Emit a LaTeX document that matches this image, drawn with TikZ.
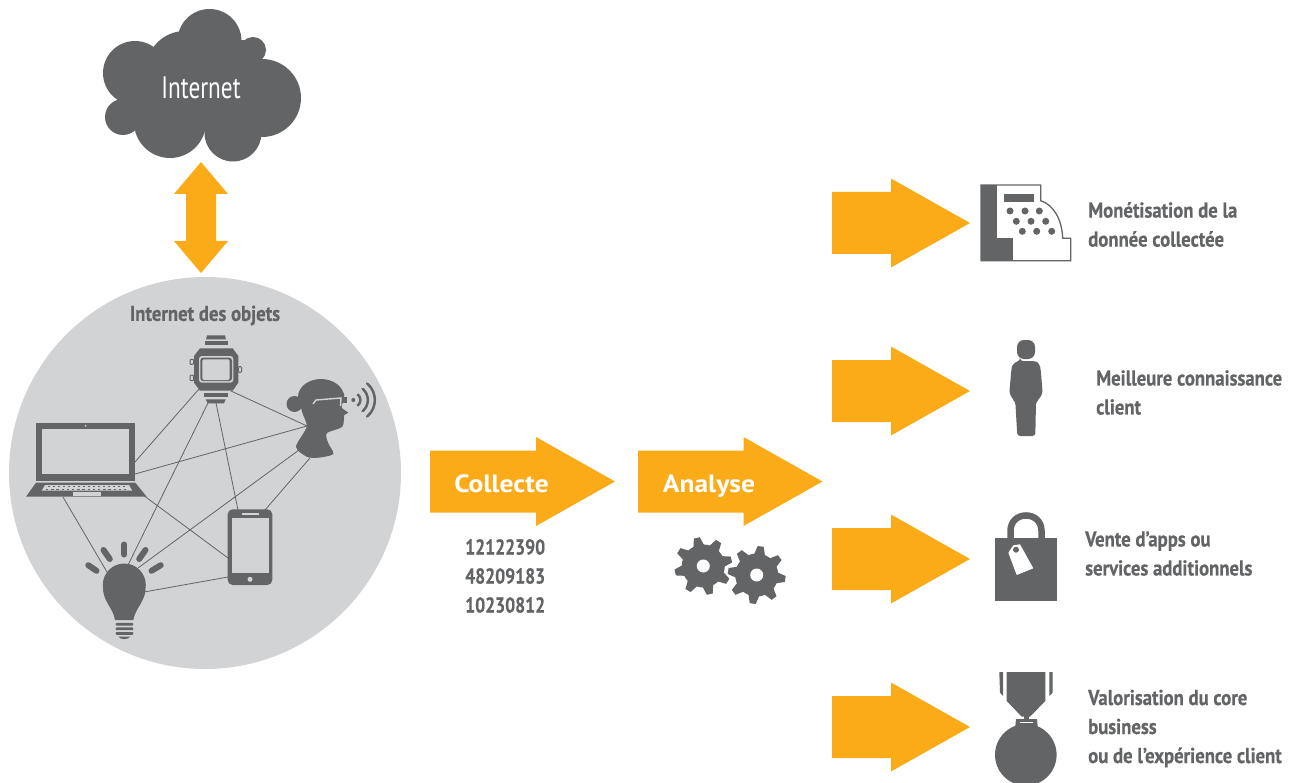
\documentclass[tikz,border=0pt]{standalone}
\usepackage{fontspec}
\setmainfont{PT Sans}
\newfontfamily\narrowfont{PT Sans}[FakeStretch=0.87,BoldFeatures={FakeBold=0.4}]
\newfontfamily\digitfont{PT Sans}[FakeStretch=0.82,BoldFeatures={FakeBold=0.4}]
\newfontfamily\thinfont{PT Sans}[FakeStretch=0.75]
\newfontfamily\widefont{PT Sans}[FakeStretch=1.1]
\definecolor{darkgrey}{HTML}{636466}
\definecolor{lightgrey}{HTML}{D1D3D4}
\definecolor{arroworange}{HTML}{FBAB18}
\tikzset{
    link/.style={draw=darkgrey, line width=0.8pt},
    lbl/.style={anchor=west, align=left, inner sep=0pt, text=darkgrey, font=\narrowfont\bfseries\fontsize{21.5}{29}\selectfont},
    numlbl/.style={lbl, font=\digitfont\bfseries\fontsize{21.5}{29}\selectfont},
    arrowlbl/.style={inner sep=0pt, text=white, text height=18pt, text depth=6pt, font=\widefont\bfseries\fontsize{25}{28}\selectfont},
    ray/.style={draw=darkgrey, line width=6pt, line cap=round},
}
% block arrow: left end, start of the head, middle height
\newcommand{\orangearrow}[3]{
    \fill[arroworange] (#1,#3-31) -- (#2,#3-31) -- (#2,#3-44.5) -- (#2+79,#3) -- (#2,#3+44.5) -- (#2,#3+31) -- (#1,#3+31) -- cycle;
}
% gear: center, rotation
\newcommand{\gearwheel}[3]{
    \fill[darkgrey] (#1,#2) circle (21.5pt);
    \foreach \a in {0,45,...,315} {
        \fill[darkgrey, shift={(#1,#2)}] (#3+\a-15:21) -- (#3+\a-6:29) -- (#3+\a+6:29) -- (#3+\a+15:21) -- cycle;
    }
    \fill[white] (#1,#2) circle (6.5pt);
}
\begin{document}
\begin{tikzpicture}[x=1pt,y=-1pt]
    \clip (0,0) rectangle (1289,783);
    \fill[white] (0,0) rectangle (1289,783);

    % cloud
    \fill[darkgrey] (209.5,41) circle (32pt);
    \fill[darkgrey] (253,50) circle (13pt);
    \fill[darkgrey] (262,98) circle (39pt);
    \fill[darkgrey] (135,73) circle (32pt);
    \fill[darkgrey] (185,70) circle (39pt);
    \fill[darkgrey] (123,117) circle (18pt);
    \fill[darkgrey] (170,122) circle (36pt);
    \fill[darkgrey] (233,133) circle (28.5pt);
    \fill[darkgrey] (135,60) rectangle (265,130);
    \fill[darkgrey] (220,40) rectangle (255,65);
    \node[inner sep=0pt, text=white, font=\thinfont\fontsize{31}{34}\selectfont] (internet) at (201,88) {Internet};

    % double arrow
    \fill[arroworange] (201,162) -- (228,194) -- (216,194) -- (216,241) -- (228,241) -- (201,273) -- (174,241) -- (186,241) -- (186,194) -- (174,194) -- cycle;

    % big circle
    \fill[lightgrey] (205,473) circle (196pt);
    \node[lbl, anchor=center] (objets) at (205,315.5) {Internet des objets};

    % links
    \coordinate (watchA) at (199,389);
    \coordinate (watchB) at (208,403);
    \coordinate (watchC) at (216,403);
    \coordinate (watchD) at (231,391);
    \coordinate (headA) at (307,426);
    \coordinate (headB) at (310,458);
    \coordinate (headC) at (299,450);
    \coordinate (laptopA) at (135,462);
    \coordinate (laptopB) at (135,474);
    \coordinate (laptopC) at (63,497);
    \coordinate (laptopD) at (143,495);
    \coordinate (bulbA) at (128,565);
    \coordinate (bulbB) at (107,572);
    \coordinate (bulbC) at (138,568);
    \coordinate (bulbD) at (144,592);
    \coordinate (phoneA) at (238,510);
    \coordinate (phoneB) at (228,558);
    \coordinate (phoneC) at (265,510);
    \coordinate (phoneD) at (228,577);
    \draw[link] (watchA) -- (laptopA);
    \draw[link] (watchB) -- (bulbA);
    \draw[link] (watchC) -- (phoneA);
    \draw[link] (watchD) -- (headA);
    \draw[link] (laptopB) -- (headA);
    \draw[link] (laptopC) -- (bulbB);
    \draw[link] (laptopD) -- (phoneB);
    \draw[link] (headB) -- (phoneC);
    \draw[link] (headC) -- (bulbC);
    \draw[link] (bulbD) -- (phoneD);

    % watch
    \fill[darkgrey] (207,335.3) -- (225,335.3) -- (226,339.3) -- (206,339.3) -- cycle;
    \fill[darkgrey] (205,341.3) rectangle (227.7,345.3);
    \fill[darkgrey] (200,348.3) -- (232.7,348.3) -- (238.3,356) -- (238.3,382.7) -- (232.7,390.7) -- (200,390.7) -- (194,382.7) -- (194,356) -- cycle;
    \fill[darkgrey] (203.7,393.3) rectangle (227.7,397.3);
    \fill[darkgrey] (205.7,399.3) -- (225.7,399.3) -- (224,403.3) -- (207.7,403.3) -- cycle;
    \fill[lightgrey, rounded corners=3pt] (199,356) rectangle (233.3,382.7);
    \fill[darkgrey, rounded corners=3pt] (200.3,357.5) rectangle (232,381.2);
    \fill[lightgrey, rounded corners=2pt] (202.3,359.3) rectangle (229.7,380);
    \draw[darkgrey, line width=1pt, rounded corners=1pt] (193.7,359.3) rectangle (190,364.3);
    \draw[darkgrey, line width=1pt, rounded corners=1pt] (193.7,375) rectangle (190,380.7);
    \draw[darkgrey, line width=1pt, rounded corners=1pt] (238.3,366.7) rectangle (241.7,372.3);

    % head with glasses
    \fill[darkgrey] (294.5,404) circle (8pt);
    \fill[darkgrey] (321,397) ellipse (23pt and 18pt);
    \fill[darkgrey] plot[smooth cycle, tension=0.45] coordinates {(296,446.7) (306.7,426.7) (302,411.7) (300,395) (311.7,385) (328.3,385) (342,392) (344.3,395) (341.7,407.3) (348.3,412.7) (344.3,415) (342.3,426.7) (326.7,433.3) (328.3,443.3) (333.3,454) (318.3,457.7) (306.7,456.7)};
    \draw[lightgrey, line width=1.4pt] (313,404) -- (316,400) -- (341,398) -- (340.5,406);
    \fill[darkgrey] (341.7,396.7) rectangle (347.3,403.3);
    \fill[darkgrey] (353.3,400) circle (2pt);
    \foreach \r in {7,14.5,21.5} {
        \draw[darkgrey, line width=2.5pt, line cap=round] plot[domain=-50:50, samples=15] ({353.3+\r*cos(\x)},{400+\r*sin(\x)});
    }

    % laptop
    \fill[darkgrey] (36,423) rectangle (135,481);
    \fill[lightgrey] (42.3,429) rectangle (129,474);
    \fill[lightgrey] (85.7,425.7) circle (1pt);
    \fill[darkgrey] (36,482.7) -- (135.3,482.7) -- (146.7,496.7) -- (26,496.7) -- cycle;
    \fill[lightgrey] (45,485) -- (129,485) -- (132.3,490.7) -- (41.7,490.7) -- cycle;
    \fill[lightgrey] (72.7,492.3) rectangle (101,495.7);
    % keys
    \foreach \i in {0,...,15} {
        \fill[darkgrey] (48+5*\i,486.4) rectangle ++(2.4,1);
        \fill[darkgrey] (46+5.2*\i,488.6) rectangle ++(2.4,1);
    }

    % bulb
    \fill[darkgrey] (124.3,585) circle (21.5pt);
    \fill[darkgrey] (103,590) .. controls (104.5,603) and (113,608) .. (115,620) -- (133.3,620) .. controls (135.5,608) and (144,603) .. (145.6,590) -- cycle;
    \draw[ray] (124.3,544.5) -- (124.3,554.5);
    \draw[ray] (103.5,550) -- (109.8,559);
    \draw[ray] (145.5,550) -- (139.2,559);
    \draw[ray] (88.3,565.2) -- (96.5,570.8);
    \draw[ray] (160.7,565.2) -- (151.5,570.8);
    \fill[darkgrey, rounded corners=1pt] (115.7,622.8) rectangle (133.3,625.6);
    \fill[darkgrey, rounded corners=1pt] (115.7,627.4) rectangle (133.3,630.2);
    \fill[darkgrey, rounded corners=1pt] (115.7,632) rectangle (133.3,634.8);
    \fill[darkgrey] (118.3,636.5) -- (130.3,636.5) .. controls (128,640) and (120.5,640) .. cycle;

    % phone
    \fill[darkgrey, rounded corners=5pt] (227.7,509.3) rectangle (272.3,585);
    \fill[lightgrey] (231.7,517.7) rectangle (268.7,572.7);
    \fill[lightgrey] (241.7,512.7) rectangle (259,514.7);
    \fill[lightgrey] (250,579.3) circle (2.5pt);

    % middle arrows
    \orangearrow{430}{536}{481.5}
    \orangearrow{638}{743.5}{481.5}
    \node[arrowlbl] (collecte) at (501.5,486) {Collecte};
    \node[arrowlbl] (analyse) at (709,486) {Analyse};

    % numbers
    \node[numlbl] (numa) at (465,547) {12122390};
    \node[numlbl] (numb) at (465,576) {48209183};
    \node[numlbl] (numc) at (465,605) {10230812};

    % gears
    \gearwheel{703.3}{566}{-103}
    \gearwheel{756.7}{575}{-82}

    % right arrows
    \foreach \y in {223,391,559,727} {
        \orangearrow{832}{891}{\y}
    }

    % cash register
    \fill[white, draw=darkgrey, line width=1.3pt] (981,185) -- (1040.7,185) -- (1040.7,200.7) .. controls (1054,205) and (1062,220) .. (1062.7,238.3) -- (1070.7,238.3) -- (1070.7,260.7) -- (981,260.7) -- cycle;
    \fill[darkgrey] (981,185) rectangle (996.7,260.7);
    \fill[darkgrey] (996.7,237.7) rectangle (1013.3,260.7);
    \fill[darkgrey] (1004,194) rectangle (1034,202);
    \foreach \x/\y in {1010/211, 1025/211, 1039.3/211, 1016.3/221.3, 1031/221.3, 1045.7/221.3, 1022.3/231.3, 1036.7/231.3, 1051.7/231.3} {
        \fill[darkgrey] (\x,\y) circle (3.5pt);
    }
    \node[lbl] (monetisation) at (1088,224.5) {Monétisation de la\\donnée collectée};

    % person
    \fill[darkgrey, rounded corners=7pt] (1017,340) rectangle (1035,359);
    \fill[darkgrey, rounded corners=3pt] (1020,361) -- (1033.3,361) .. controls (1038,362) and (1040,366) .. (1040.7,370) -- (1042.7,393.3) -- (1038.3,400) -- (1036,401.7) -- (1035.3,436) -- (1017.3,436) -- (1015.3,401.7) -- (1013.3,400) -- (1009.3,393.3) -- (1011.3,370) .. controls (1012,366) and (1015,362) .. cycle;
    \node[lbl] (connaissance) at (1096,392.5) {Meilleure connaissance\\client};

    % bag
    \fill[darkgrey] (995,537.7) rectangle (1056.7,601);
    \draw[darkgrey, line width=6.5pt] (1010.5,540) -- (1010.5,531) .. controls (1010.5,510.3) and (1041.5,510.3) .. (1041.5,531) -- (1041.5,540);
    \fill[white, rounded corners=0.5pt] (1008.3,552.7) -- (1013.3,545.3) -- (1020,544.3) -- (1033.3,568.3) -- (1016.7,575) -- cycle;
    \fill[darkgrey] (1016,549.7) circle (3pt);
    \node[lbl] (apps) at (1085,553.5) {Vente d’apps ou\\services additionnels};

    % medal
    \fill[darkgrey] (1006.7,672) -- (1045.3,672) -- (1045.3,701) -- (1030,716.7) -- (1021.7,716.7) -- (1006.7,701) -- cycle;
    \fill[darkgrey] (999.3,672) -- (1003,672) -- (1003,696) -- (1000,692.7) -- cycle;
    \fill[darkgrey] (1049.3,672) -- (1052.7,672) -- (1052.7,692.7) -- (1049.3,696) -- cycle;
    \fill[darkgrey] (1023.5,716) rectangle (1029,720);
    \fill[darkgrey] (1016,719) -- (1037,719) -- (1038,730) -- (1015,730) -- cycle;
    \fill[white] (1020,721.7) rectangle (1032.7,723.3);
    \fill[darkgrey] (1025.8,754.8) circle (30.8pt);
    \node[lbl] (valorisation) at (1088,728.5) {Valorisation du core\\business\\ou de l’expérience client};
\end{tikzpicture}
\end{document}
